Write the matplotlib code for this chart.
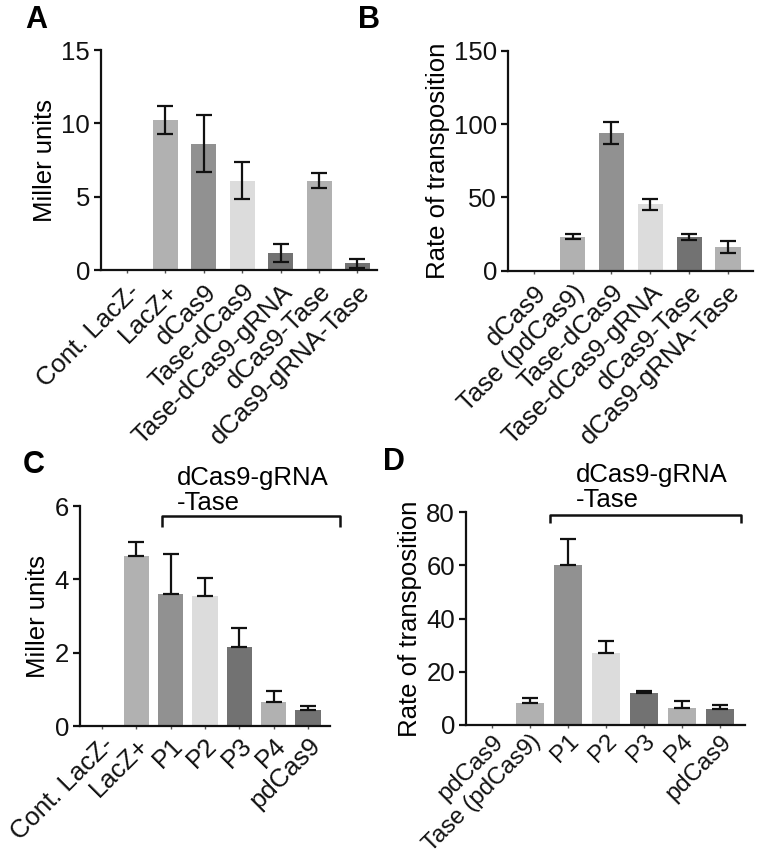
import matplotlib
matplotlib.use("Agg")
import matplotlib.pyplot as plt
import numpy as np

plt.rcParams['font.family'] = ['Liberation Sans', 'DejaVu Sans']

# ---- Data ----
a_labels = ["Cont. LacZ-", "LacZ+", "dCas9", "Tase-dCas9", "Tase-dCas9-gRNA", "dCas9-Tase", "dCas9-gRNA-Tase"]
a_values = [0.0, 10.2, 8.6, 6.1, 1.15, 6.1, 0.45]
a_errors = [0.0, 0.95, 1.95, 1.26, 0.6, 0.5, 0.3]

b_labels = ["dCas9", "Tase (pdCas9)", "Tase-dCas9", "Tase-dCas9-gRNA", "dCas9-Tase", "dCas9-gRNA-Tase"]
b_values = [0.0, 23.3, 94.0, 45.2, 23.0, 16.3]
b_errors = [0.0, 2.0, 7.4, 3.7, 2.2, 4.0]

c_labels = ["Cont. LacZ-", "LacZ+", "P1", "P2", "P3", "P4", "pdCas9"]
c_values = [0.0, 4.65, 3.6, 3.55, 2.15, 0.66, 0.45]
c_errors = [0.0, 0.38, 1.1, 0.5, 0.53, 0.29, 0.09]

d_labels = ["pdCas9", "Tase (pdCas9)", "P1", "P2", "P3", "P4", "pdCas9"]
d_values = [0.3, 8.3, 60.0, 27.0, 12.0, 6.2, 6.1]
d_errors = [0.0, 2.0, 10.0, 4.4, 0.9, 2.8, 1.5]

LG, MG, VL, DG = "#b1b1b1", "#919191", "#dcdcdc", "#727272"
a_colors = ["#ffffff", LG, MG, VL, DG, LG, DG]
b_colors = ["#ffffff", LG, MG, VL, DG, LG]
c_colors = ["#ffffff", LG, MG, VL, DG, LG, DG]
d_colors = ["#555555", LG, MG, VL, DG, LG, DG]

fig = plt.figure(figsize=(7.57, 8.6), dpi=100)
W, H = 757.0, 860.0

def make_ax(l, r, b, t):
    return fig.add_axes([l / W, 1 - b / H, (r - l) / W, (b - t) / H])

def style(ax, labels, values, errors, colors, width, xlim, ylim, yticks, ylabel,
          fs, both_err=True, xfs=None, xpad=5):
    x = np.arange(len(labels))
    vals = np.array(values)
    errs = np.array(errors)
    ax.bar(x, vals, width=width, color=colors, edgecolor="none", zorder=2)
    mask = errs > 0
    if both_err:
        yerr = errs[mask]
    else:
        yerr = [np.zeros(mask.sum()), errs[mask]]
    ax.errorbar(x[mask], vals[mask], yerr=yerr,
                fmt="none", ecolor="#111111", elinewidth=1.6, capsize=6, capthick=1.6, zorder=3)
    ax.set_xlim(*xlim)
    ax.set_ylim(*ylim)
    ax.set_yticks(yticks)
    ax.set_yticklabels([str(v) for v in yticks], fontsize=fs)
    ax.set_xticks(x)
    ax.set_xticklabels(labels, rotation=45, ha="right", va="top",
                       rotation_mode="anchor", fontsize=xfs or fs)
    ax.set_ylabel(ylabel, fontsize=fs, labelpad=3)
    for s in ["top", "right"]:
        ax.spines[s].set_visible(False)
    for s in ["left", "bottom"]:
        ax.spines[s].set_linewidth(1.6)
        ax.spines[s].set_color("#111111")
    ax.tick_params(axis="y", length=5, width=1.6, pad=3, colors="#111111")
    ax.tick_params(axis="x", length=2, width=1.0, pad=xpad, colors="#555555",
                   labelcolor="#111111")

FS = 18.5

# Panel A
axA = make_ax(101, 377, 270, 50)
style(axA, a_labels, a_values, a_errors, a_colors, 0.65, (-0.68, 6.51), (0, 15),
      [0, 5, 10, 15], "Miller units", FS)

# Panel B
axB = make_ax(508, 753, 270.7, 50.7)
style(axB, b_labels, b_values, b_errors, b_colors, 0.65, (-0.66, 5.64), (0, 150),
      [0, 50, 100, 150], "Rate of transposition", FS)

# Panel C
axC = make_ax(80, 330, 726, 506)
style(axC, c_labels, c_values, c_errors, c_colors, 0.74, (-0.64, 6.64), (0, 6),
      [0, 2, 4, 6], "Miller units", FS, both_err=False, xpad=3)

# Panel D
axD = make_ax(466, 745, 725, 512)
style(axD, d_labels, d_values, d_errors, d_colors, 0.74, (-0.68, 6.66), (0, 80),
      [0, 20, 40, 60, 80], "Rate of transposition", FS, both_err=False,
      xfs=17.3, xpad=2)

# Brackets
axC.plot([1.74, 1.74, 6.93, 6.93], [5.42, 5.73, 5.73, 5.42], color="#111111",
         lw=1.8, clip_on=False, solid_capstyle="butt")
axC.text(2.18, 5.76, "dCas9-gRNA\n-Tase", fontsize=FS, ha="left", va="bottom",
         linespacing=1.05, clip_on=False)
axD.plot([1.53, 1.53, 6.55, 6.55], [75.8, 78.9, 78.9, 75.8], color="#111111",
         lw=1.8, clip_on=False, solid_capstyle="butt")
axD.text(2.21, 80.0, "dCas9-gRNA\n-Tase", fontsize=FS, ha="left", va="bottom",
         linespacing=1.05, clip_on=False)

# Panel letters
fig.text(25 / W, 1 - 28 / H, "A", fontsize=22, fontweight="bold", ha="left", va="baseline")
fig.text(358 / W, 1 - 28 / H, "B", fontsize=22, fontweight="bold", ha="left", va="baseline")
fig.text(23 / W, 1 - 473 / H, "C", fontsize=22, fontweight="bold", ha="left", va="baseline")
fig.text(383 / W, 1 - 470 / H, "D", fontsize=22, fontweight="bold", ha="left", va="baseline")

fig.savefig("out.png", dpi=100)
